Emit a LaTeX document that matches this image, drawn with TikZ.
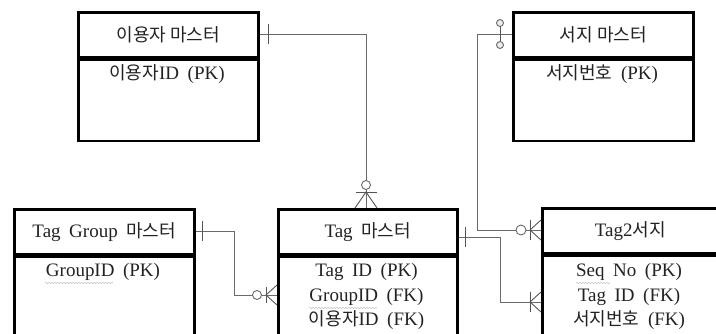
\documentclass[tikz,border=0pt]{standalone}
\usepackage{fontspec}
\setmainfont{Liberation Serif}[WordSpace=1.8]
\newfontfamily\krf{Noto Sans CJK KR}[Scale=0.95]
\newcommand\hk[1]{{\krf #1}}
\usetikzlibrary{decorations.pathmorphing}
\definecolor{conn}{HTML}{6A6A6A}
\definecolor{txt}{HTML}{222222}
\tikzset{
  hdr/.style={draw=black, line width=2.6pt, minimum width=180pt, minimum height=45pt, inner sep=0pt, anchor=north west, text=txt, font=\fontsize{19}{22}\selectfont},
  bodybox/.style={draw=black, line width=2.6pt, minimum width=180pt, minimum height=90pt, inner sep=0pt, anchor=north, text=txt},
  fld/.style={text=txt, font=\fontsize{19}{22}\selectfont, inner sep=0pt},
  conline/.style={draw=conn, line width=0.9pt},
  sym/.style={draw=conn!80!black, line width=0.9pt},
  circ/.style={draw=conn, line width=0.9pt, fill=white},
  squig/.style={draw=gray!45, line width=0.6pt, decorate, decoration={snake, amplitude=0.7pt, segment length=3pt}}
}
\begin{document}
\begin{tikzpicture}[x=1pt, y=-1pt]
\useasboundingbox (0,0) rectangle (716,334);
\clip (0,0) rectangle (716,334);
% entities
\node[hdr] (u) at (77,11) {\hk{이용자 마스터}};
\node[bodybox, minimum height=81pt] (ub) at (u.south) {};
\node[fld] (uf1) at (167,74) {\hk{이용자}ID (PK)};

\node[hdr] (s) at (512,11) {\hk{서지 마스터}};
\node[bodybox, minimum height=81pt] (sb) at (s.south) {};
\node[fld] (sf1) at (602,74) {\hk{서지번호} (PK)};

\node[hdr] (g) at (13,208) {Tag Group \hk{마스터}};
\node[bodybox] (gb) at (g.south) {};
\node[fld] (gf1) at (103,272) {GroupID (PK)};

\node[hdr, minimum width=179pt] (t) at (277,208) {Tag \hk{마스터}};
\node[bodybox, minimum width=179pt] (tb) at (t.south) {};
\node[fld] (tf1) at (366.5,272) {Tag ID (PK)};
\node[fld] (tf2) at (366.5,297) {GroupID (FK)};
\node[fld] (tf3) at (366.5,320) {\hk{이용자}ID (FK)};

\node[hdr, minimum width=176pt] (ts) at (541,207) {Tag2\hk{서지}};
\node[bodybox, minimum width=176pt] (tsb) at (ts.south) {};
\node[fld] (tsf1) at (629,272) {Seq No (PK)};
\node[fld] (tsf2) at (629,297) {Tag ID (FK)};
\node[fld] (tsf3) at (629,320) {\hk{서지번호} (FK)};

% spell-check squiggles
\draw[squig] (45,283) -- (113,283);
\draw[squig] (309,308) -- (377,308);
\draw[squig] (576,283) -- (610,283);

% connector 1: 이용자 마스터 -> Tag 마스터
\draw[conline] (u.east |- 0,34) -- (366,34) -- (366,181);
\draw[conline] (366,189) -- (t.north -| 366,0);
\draw[sym] (268,24) -- (268,44);
\draw[circ] (366,185) circle (4.5pt);
\draw[sym] (356,192) -- (377,192);
\draw[sym] (355,208) -- (366,192) -- (377,208);

% connector 2: 서지 마스터 -> Tag2서지
\draw[conline] (s.west |- 0,34) -- (477,34) -- (477,230) -- (516,230);
\draw[conline] (526,230) -- (541,230);
\draw[sym] (500,23) -- (500,45);
\draw[circ, fill=gray!15] (500,23) circle (3.5pt);
\draw[circ, fill=gray!15] (500,45) circle (3.5pt);
\draw[circ] (521,230) circle (5pt);
\draw[sym] (530,220) -- (530,240);
\draw[sym] (541,220) -- (530,230) -- (541,240);

% connector 3: Tag Group 마스터 -> Tag 마스터
\draw[conline] (g.east |- 0,231) -- (234,231) -- (234,295) -- (252.5,295);
\draw[conline] (261.5,295) -- (277,295);
\draw[sym] (202,221) -- (202,241);
\draw[circ] (257,295) circle (4.5pt);
\draw[sym] (266,287) -- (266,303);
\draw[sym] (277,285) -- (266,295) -- (277,305);

% connector 4: Tag 마스터 -> Tag2서지
\draw[conline] (t.east |- 0,237) -- (500,237) -- (500,302) -- (541,302);
\draw[sym] (465,227) -- (465,247);
\draw[sym] (530,292) -- (530,312);
\draw[sym] (541,292) -- (530,302) -- (541,312);
\end{tikzpicture}
\end{document}
